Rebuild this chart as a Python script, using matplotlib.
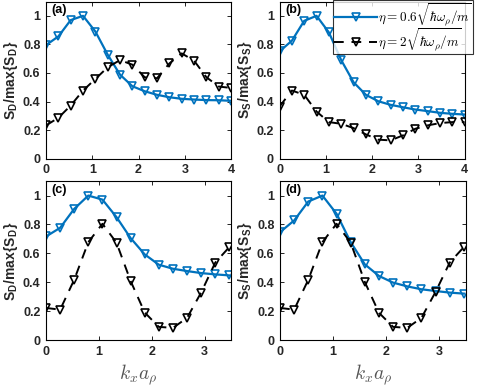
import numpy as np
import matplotlib
matplotlib.use("Agg")
import matplotlib.pyplot as plt

plt.rcParams['font.family'] = ['Liberation Sans', 'DejaVu Sans']
plt.rcParams['mathtext.fontset'] = 'cm'

# k_x a_rho sample points
kx_full = [0, 0.267, 0.533, 0.8, 1.067, 1.333, 1.6, 1.867, 2.133, 2.4, 2.667, 2.933, 3.2, 3.467, 3.733, 4.0]
kx_short = kx_full[:14]

# (a) S_D, top row
a_blue = [0.795, 0.856, 0.97, 1.0, 0.89, 0.728, 0.588, 0.507, 0.472, 0.447, 0.43, 0.419, 0.414, 0.41, 0.409, 0.405]
a_black = [0.233, 0.286, 0.372, 0.477, 0.558, 0.64, 0.69, 0.658, 0.57, 0.563, 0.667, 0.737, 0.686, 0.57, 0.505, 0.495]
# (b) S_S, top row
b_blue = [0.751, 0.826, 0.965, 1.0, 0.884, 0.69, 0.535, 0.447, 0.402, 0.377, 0.36, 0.344, 0.333, 0.321, 0.314, 0.309]
b_black = [0.365, 0.477, 0.447, 0.33, 0.256, 0.244, 0.214, 0.17, 0.133, 0.128, 0.163, 0.209, 0.233, 0.249, 0.256, 0.256]
# (c) S_D, bottom row
c_blue = [0.717, 0.777, 0.908, 1.0, 0.972, 0.851, 0.706, 0.593, 0.522, 0.494, 0.478, 0.464, 0.455, 0.448]
c_black = [0.223, 0.211, 0.418, 0.678, 0.805, 0.674, 0.409, 0.191, 0.092, 0.085, 0.154, 0.329, 0.536, 0.644]
# (d) S_S, bottom row
d_blue = [0.747, 0.828, 0.959, 1.0, 0.874, 0.678, 0.524, 0.444, 0.398, 0.372, 0.352, 0.34, 0.329, 0.322]
d_black = [0.223, 0.211, 0.418, 0.678, 0.805, 0.674, 0.402, 0.189, 0.092, 0.085, 0.154, 0.333, 0.536, 0.644]

labels = [r'$\eta=0.6\sqrt{\hbar\omega_\rho/m}$', r'$\eta=2\sqrt{\hbar\omega_\rho/m}$']
blue = '#0072BD'

fig = plt.figure(figsize=(4.87, 3.87), dpi=100)
rects = [
    [0.0945, 0.590, 0.380, 0.406],
    [0.574, 0.590, 0.380, 0.406],
    [0.0945, 0.121, 0.380, 0.411],
    [0.575, 0.121, 0.381, 0.411],
]
panels = [
    ('(a)', kx_full, a_blue, a_black, 4.0, 'D'),
    ('(b)', kx_full, b_blue, b_black, 4.0, 'S'),
    ('(c)', kx_short, c_blue, c_black, 3.5, 'D'),
    ('(d)', kx_short, d_blue, d_black, 3.5, 'S'),
]

axes = []
for rect, (tag, x, yb, yk, xmax, sub) in zip(rects, panels):
    ax = fig.add_axes(rect)
    ax.plot(x, yb, '-v', color=blue, lw=1.6, ms=6, mfc='none', mew=1.2, label=labels[0])
    ax.plot(x, yk, '--v', color='black', lw=1.4, ms=6, mfc='none', mew=1.2,
            dashes=(5, 4), label=labels[1])
    ax.set_xlim(0, xmax)
    ax.set_ylim(0, 1.1)
    ax.set_yticks([0, 0.2, 0.4, 0.6, 0.8, 1.0])
    ax.set_yticklabels(['0', '0.2', '0.4', '0.6', '0.8', '1'])
    ax.set_xticks(np.arange(0, int(xmax) + 1))
    ax.tick_params(direction='in', top=True, right=True, length=3, width=0.6,
                   labelsize=9, pad=4)
    for lab in ax.get_xticklabels() + ax.get_yticklabels():
        lab.set_fontweight('bold')
        lab.set_color('#262626')
    for s in ax.spines.values():
        s.set_linewidth(0.8)
    ax.set_ylabel('S$_{\\mathregular{%s}}$/max{S$_{\\mathregular{%s}}$}' % (sub, sub),
                  fontsize=10, fontweight='bold', color='#262626', labelpad=2)
    ax.text(0.03, 0.985, tag, transform=ax.transAxes, ha='left', va='top',
            fontsize=9, fontweight='bold')
    axes.append(ax)

for ax in axes[2:]:
    ax.set_xlabel(r'$k_x a_\rho$', fontsize=14, color='#555555', labelpad=3)

h, l = axes[1].get_legend_handles_labels()
leg = fig.legend(h, l, loc='upper left', bbox_to_anchor=(0.684, 1.0), fontsize=9.5,
                 frameon=True, fancybox=False, edgecolor='black', handlelength=3.2,
                 handletextpad=0.1, borderpad=0.1, labelspacing=-0.15,
                 borderaxespad=0)
leg.get_frame().set_linewidth(0.8)

fig.savefig('out.png', dpi=100)
